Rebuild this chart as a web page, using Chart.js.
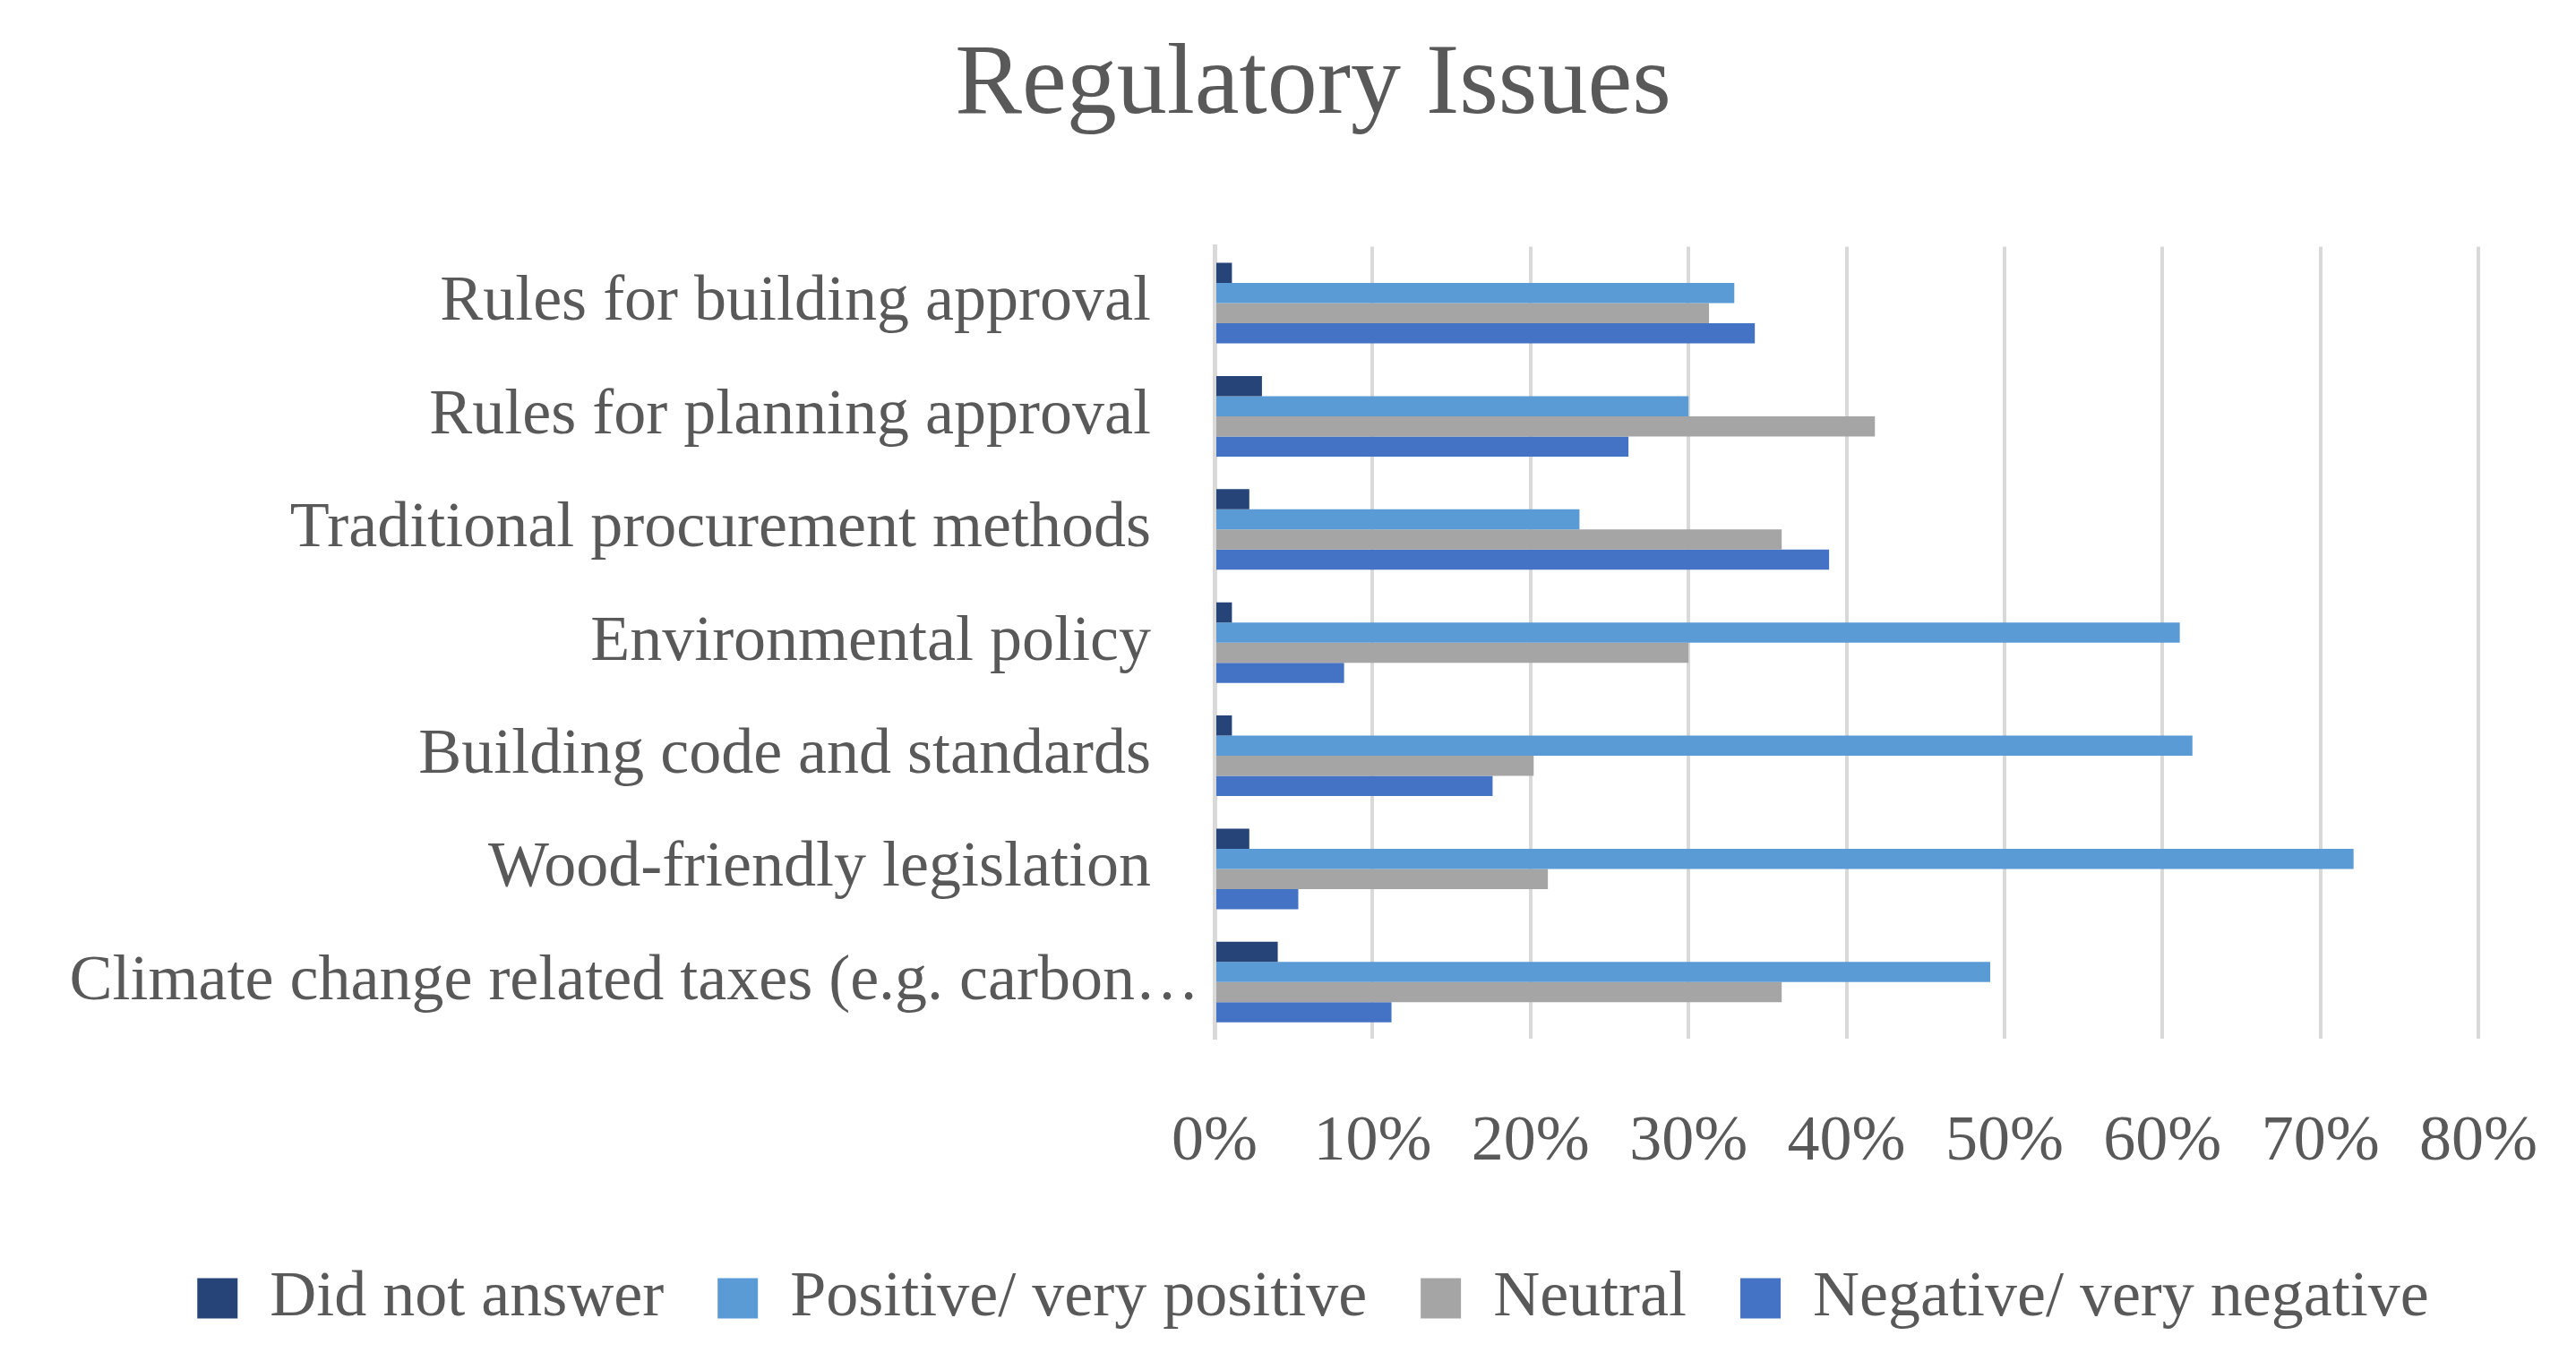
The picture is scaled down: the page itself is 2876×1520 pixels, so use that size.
<!DOCTYPE html>
<html>
<head>
<meta charset="utf-8">
<script src="https://cdn.jsdelivr.net/npm/chart.js@4.4.1/dist/chart.umd.min.js"></script>
<style>
  body { margin: 0; background: #fff; }
  #wrap { width: 2876px; height: 1520px; }
</style>
</head>
<body>
<div id="wrap"><canvas id="regulatoryChart"></canvas></div>
<script>
const categories = [
    'Rules for building approval',
    'Rules for planning approval',
    'Traditional procurement methods',
    'Environmental policy',
    'Building code and standards',
    'Wood-friendly legislation',
    'Climate change related taxes (e.g. carbon…'
];
const seriesNames = ['Did not answer', 'Positive/ very positive', 'Neutral', 'Negative/ very negative'];
const didNotAnswer = [1.1, 3.0, 2.2, 1.1, 1.1, 2.2, 4.0];
const positive = [32.9, 30.0, 23.1, 61.1, 61.9, 72.1, 49.1];
const neutral = [31.3, 41.8, 35.9, 30.0, 20.2, 21.1, 35.9];
const negative = [34.2, 26.2, 38.9, 8.2, 17.6, 5.3, 11.2];
const xTicks = [0, 10, 20, 30, 40, 50, 60, 70, 80];

const textColor = '#595959';
const gridColor = '#D9D9D9';
const fontName = '"Liberation Serif", "Times New Roman", serif';

const colors = ['#264478', '#5B9BD5', '#A5A5A5', '#4472C4'];
const values = [didNotAnswer, positive, neutral, negative];

const chartData = {
    labels: categories,
    datasets: seriesNames.map((name, i) => ({
        label: name,
        data: values[i],
        backgroundColor: colors[i],
        borderWidth: 0,
        categoryPercentage: 0.712,
        barPercentage: 1
    }))
};

new Chart(document.getElementById('regulatoryChart'), {
    type: 'bar',
    data: chartData,
    options: {
        indexAxis: 'y',
        responsive: true,
        maintainAspectRatio: false,
        devicePixelRatio: 1,
        animation: false,
        layout: {
            padding: { left: 56, right: 0, top: 0, bottom: 24 }
        },
        scales: {
            x: {
                min: 0,
                max: 80,
                afterBuildTicks: (scale) => {
                    scale.ticks = xTicks.map(v => ({ value: v }));
                },
                afterFit: (scale) => { scale.height = 194; },
                // invisible tick marks push the labels down (ticks.padding would also widen the side padding)
                grid: { color: gridColor, lineWidth: 4, drawTicks: true, tickLength: 63, tickColor: 'rgba(0,0,0,0)' },
                border: { display: false },
                ticks: {
                    padding: 10,
                    color: textColor,
                    font: { family: fontName, size: 72 },
                    callback: (v) => v + '%'
                }
            },
            y: {
                afterFit: (scale) => { scale.width = 1300; },
                grid: { display: false, drawTicks: false },
                border: { color: gridColor, width: 5 },
                ticks: {
                    padding: 17,
                    color: textColor,
                    font: { family: fontName, size: 72 },
                    // the truncated label runs closer to the axis than the others
                    callback: (v, i) => categories[i].endsWith('…') ? categories[i] : categories[i] + '   '
                }
            },
            // empty strip on the right, keeps the title and legend centred like the original
            spacer: {
                type: 'category',
                position: 'right',
                afterFit: (scale) => { scale.width = 109; },
                grid: { display: false, drawTicks: false },
                border: { display: false },
                ticks: { display: false }
            }
        },
        plugins: {
            title: {
                display: true,
                text: 'Regulatory Issues',
                color: textColor,
                font: { family: fontName, size: 112, weight: 'normal', lineHeight: 1.2 },
                padding: { top: 29, bottom: 112 }
            },
            legend: {
                position: 'bottom',
                labels: {
                    color: textColor,
                    font: { family: fontName, size: 72 },
                    boxWidth: 45,
                    boxHeight: 45,
                    padding: 60
                }
            },
            tooltip: { enabled: false }
        }
    }
});
</script>
</body>
</html>
